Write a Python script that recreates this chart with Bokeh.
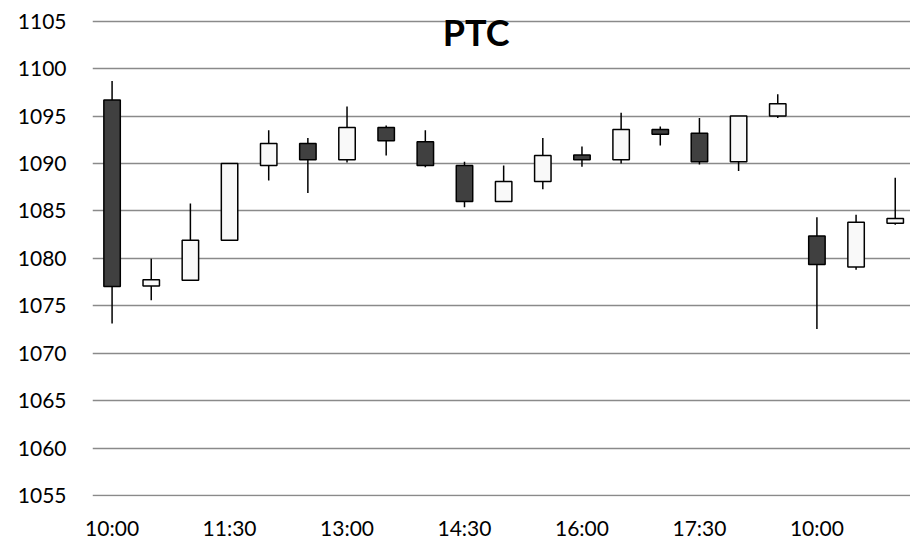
from bokeh.plotting import figure
from bokeh.models import ColumnDataSource, Range1d, Label, FixedTicker
from bokeh.embed import file_html
from bokeh.resources import INLINE

times = ["10:00", "10:30", "11:00", "11:30", "12:00", "12:30", "13:00", "13:30",
         "14:00", "14:30", "15:00", "15:30", "16:00", "16:30", "17:00", "17:30",
         "18:00", "18:30", "10:00", "10:30", "11:00"]
open_ = [1096.7, 1077.1, 1077.7, 1081.9, 1089.8, 1092.1, 1090.4, 1093.8,
         1092.3, 1089.8, 1086.0, 1088.1, 1090.9, 1090.4, 1093.6, 1093.2,
         1090.2, 1095.0, 1082.35, 1079.1, 1083.7]
close = [1077.05, 1077.75, 1081.9, 1090.0, 1092.1, 1090.4, 1093.8, 1092.4,
         1089.8, 1086.0, 1088.1, 1090.85, 1090.4, 1093.6, 1093.1, 1090.2,
         1095.0, 1096.3, 1079.35, 1083.8, 1084.2]
high = [1098.7, 1079.95, 1085.8, 1090.0, 1093.5, 1092.7, 1096.0, 1094.0,
        1093.5, 1090.2, 1089.8, 1092.7, 1091.8, 1095.35, 1093.9, 1094.8,
        1095.0, 1097.3, 1084.35, 1084.6, 1088.5]
low = [1073.15, 1075.6, 1077.7, 1081.9, 1088.2, 1086.9, 1090.1, 1090.85,
       1089.6, 1085.4, 1086.0, 1087.3, 1089.65, 1090.0, 1091.9, 1089.9,
       1089.2, 1094.8, 1072.55, 1078.8, 1083.55]
tick_every = 3
y_ticks = list(range(1055, 1106, 5))
title_text = "PTC"

FONT = "Lato"

x = list(range(len(times)))
up_color = "#f9f9f9"
down_color = "#404040"
src = ColumnDataSource(dict(
    x=x,
    high=high,
    low=low,
    top=[max(o, c) for o, c in zip(open_, close)],
    bottom=[min(o, c) for o, c in zip(open_, close)],
    color=[up_color if c >= o else down_color for o, c in zip(open_, close)],
))

p = figure(width=910, height=542, output_backend="svg", toolbar_location=None,
           x_range=Range1d(-0.5, 20.39), y_range=Range1d(1054.9, 1105.5),
           min_border_left=92, min_border_right=0, min_border_top=16,
           min_border_bottom=45)
p.background_fill_color = "white"
p.border_fill_color = "white"
p.outline_line_color = None

p.segment(x0="x", y0="low", x1="x", y1="high", source=src,
          line_color="black", line_width=1.5)
p.vbar(x="x", top="top", bottom="bottom", width=0.42, source=src,
       fill_color="color", line_color="black", line_width=1.5)

# axes
p.xaxis.ticker = FixedTicker(ticks=x[::tick_every])
p.xaxis.major_label_overrides = {i: times[i] for i in x[::tick_every]}
p.yaxis.ticker = FixedTicker(ticks=y_ticks)
for ax in (p.xaxis, p.yaxis):
    ax.axis_line_color = None
    ax.major_tick_line_color = None
    ax.minor_tick_line_color = None
    ax.major_tick_in = 0
    ax.major_tick_out = 0
    ax.major_label_text_font = FONT
    ax.major_label_text_font_size = "21px"
    ax.major_label_text_color = "black"
p.yaxis.major_label_standoff = 26
p.xaxis.major_label_standoff = 18

p.xgrid.grid_line_color = None
p.ygrid.grid_line_color = "#8a8a8a"
p.ygrid.grid_line_width = 1.3

p.add_layout(Label(x=9.3, y=1103.84, text=title_text, text_font=FONT,
                   text_font_style="bold", text_font_size="36px",
                   text_align="center", text_baseline="middle",
                   text_color="black"))

open("out.html", "w").write(file_html(p, INLINE))
